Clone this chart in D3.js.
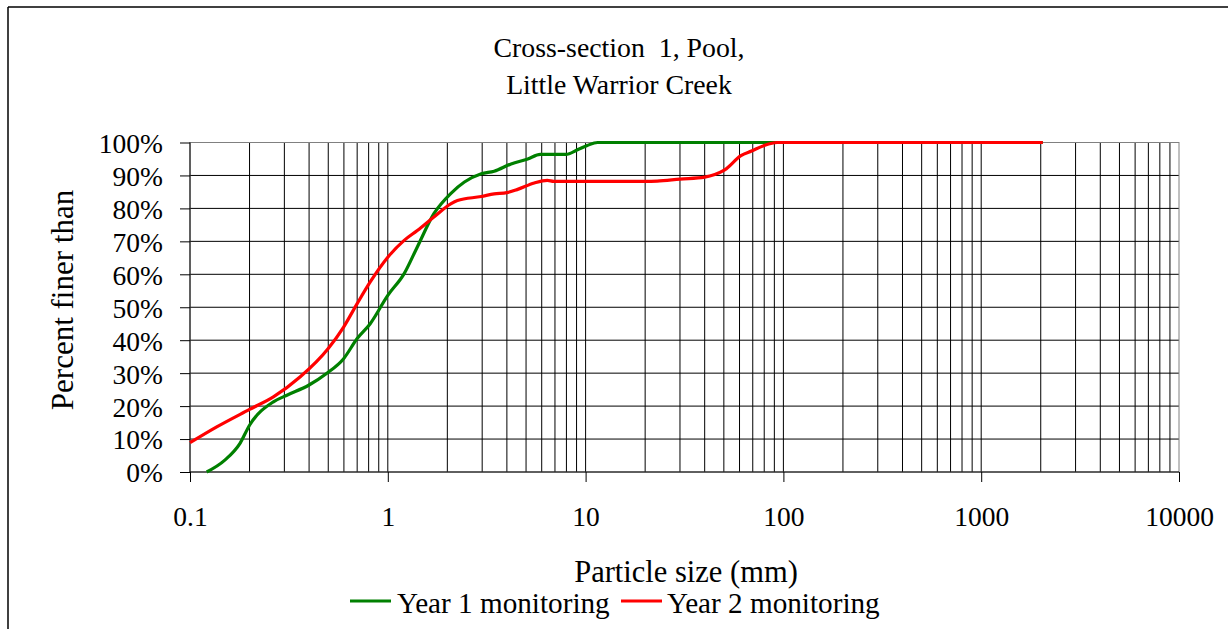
<!DOCTYPE html>
<html><head><meta charset="utf-8">
<script src="https://cdn.jsdelivr.net/npm/d3@7"></script>
<style>
html,body{margin:0;padding:0;background:#fff;}
text{font-family:"Liberation Serif","Times New Roman",serif;fill:#000;}
</style></head>
<body>
<svg id="chart" width="1228" height="629"></svg>
<script>
const titleLines = ["Cross-section  1, Pool,", "Little Warrior Creek"];
const xTitle = "Particle size (mm)";
const yTitle = "Percent finer than";
const xTickValues = [0.1, 1, 10, 100, 1000, 10000];
const xTickLabels = ["0.1", "1", "10", "100", "1000", "10000"];
const yTickValues = [0, 0.1, 0.2, 0.3, 0.4, 0.5, 0.6, 0.7, 0.8, 0.9, 1.0];
const seriesNames = ["Year 1 monitoring", "Year 2 monitoring"];
const seriesColors = ["#008000", "#ff0000"];

// Year 1: particle size (mm) and percent finer
const year1Size = [0.1215, 0.15, 0.179, 0.2, 0.264, 0.309, 0.4, 0.49, 0.598, 0.7, 0.815, 1.0, 1.21, 1.41, 1.71, 2.08, 2.44, 2.97, 3.45, 4.2, 5.1, 5.9, 7.95, 9.1, 10.2, 11.5, 16, 100, 2048];
const year1Pct  = [0.0, 0.036, 0.087, 0.142, 0.213, 0.233, 0.264, 0.299, 0.344, 0.405, 0.45, 0.536, 0.602, 0.683, 0.784, 0.845, 0.88, 0.905, 0.913, 0.935, 0.95, 0.964, 0.964, 0.978, 0.991, 1.0, 1.0, 1.0, 1.0];
// Year 2
const year2Size = [0.1, 0.1365, 0.2, 0.264, 0.361, 0.5, 0.598, 0.7, 0.815, 1.0, 1.21, 1.41, 1.71, 2.08, 2.25, 2.97, 3.45, 4.0, 4.5, 5.5, 6.4, 6.9, 20.3, 23, 30, 40, 45, 50.5, 61, 69, 80, 93, 100, 2048];
const year2Pct  = [0.089, 0.137, 0.19, 0.228, 0.289, 0.375, 0.44, 0.511, 0.577, 0.652, 0.703, 0.733, 0.774, 0.814, 0.824, 0.836, 0.844, 0.848, 0.857, 0.877, 0.885, 0.882, 0.882, 0.883, 0.889, 0.895, 0.903, 0.917, 0.96, 0.974, 0.991, 1.0, 1.0, 1.0];

const svg = d3.select("#chart");
const W = 1228, H = 629;
const plot = {left: 190, right: 1179, top: 142.5, bottom: 472};

const x = d3.scaleLog().domain([0.1, 10000]).range([plot.left, plot.right]);
const y = d3.scaleLinear().domain([0, 1]).range([plot.bottom, plot.top]);

// outer chart frame (left and top edges visible)
svg.append("line").attr("x1", 8).attr("x2", 8).attr("y1", 7).attr("y2", H).attr("stroke", "#000").attr("stroke-width", 1.5);
svg.append("line").attr("x1", 8).attr("x2", W).attr("y1", 7).attr("y2", 7).attr("stroke", "#000").attr("stroke-width", 1.5);

// title
svg.append("text").attr("x", 619).attr("y", 57).attr("text-anchor", "middle")
  .style("font-size", "27.8px").style("white-space", "pre").text(titleLines[0]);
svg.append("text").attr("x", 619).attr("y", 94).attr("text-anchor", "middle")
  .style("font-size", "27.8px").text(titleLines[1]);

// vertical gridlines (major & minor)
const gridX = [];
for (let e = -1; e < 4; e++) for (let m = 1; m < 10; m++) gridX.push(m * Math.pow(10, e));
svg.append("g").selectAll("line").data(gridX.filter(v => v > 0.1 && v < 10000)).join("line")
  .attr("x1", d => x(d)).attr("x2", d => x(d))
  .attr("y1", plot.top).attr("y2", plot.bottom)
  .attr("stroke", "#000").attr("stroke-width", 1);

// horizontal gridlines
svg.append("g").selectAll("line").data(yTickValues.filter(v => v > 0 && v < 1)).join("line")
  .attr("x1", plot.left).attr("x2", plot.right)
  .attr("y1", d => y(d)).attr("y2", d => y(d))
  .attr("stroke", "#000").attr("stroke-width", 1);

// plot border (grey)
svg.append("rect").attr("x", plot.left).attr("y", plot.top)
  .attr("width", plot.right - plot.left).attr("height", plot.bottom - plot.top)
  .attr("fill", "none").attr("stroke", "#808080").attr("stroke-width", 1);

// y axis
const yAxis = d3.axisLeft(y).tickValues(yTickValues).tickFormat(d3.format(".0%")).tickSize(10).tickPadding(17);
const gy = svg.append("g").attr("transform", `translate(${plot.left},0)`).call(yAxis);
gy.attr("font-family", null);
gy.select(".domain").attr("stroke", "#000").attr("d", `M0,${plot.top}V${plot.bottom}`);
gy.selectAll(".tick line").attr("stroke", "#000");
gy.selectAll(".tick text").style("font-size", "27.5px").attr("dy", "0.36em")
  .style("font-family", "'Liberation Serif','Times New Roman',serif");

// x axis
const xAxis = d3.axisBottom(x).tickValues(xTickValues).tickFormat((d, i) => xTickLabels[i]).tickSize(10).tickPadding(24);
const gx = svg.append("g").attr("transform", `translate(0,${plot.bottom})`).call(xAxis);
gx.attr("font-family", null);
gx.select(".domain").attr("stroke", "#000").attr("d", `M${plot.left},0H${plot.right}`);
gx.selectAll(".tick line").attr("stroke", "#000");
gx.selectAll(".tick text").style("font-size", "27.5px")
  .style("font-family", "'Liberation Serif','Times New Roman',serif");

// axis titles
svg.append("text").attr("x", 686).attr("y", 582).attr("text-anchor", "middle")
  .style("font-size", "30.5px").text(xTitle);
svg.append("text").attr("transform", "translate(73,300) rotate(-90)").attr("text-anchor", "middle")
  .style("font-size", "31px").text(yTitle);

// series lines
const line = d3.line().x(d => x(d[0])).y(d => y(d[1])).curve(d3.curveMonotoneX);
const s1 = year1Size.map((v, i) => [v, year1Pct[i]]);
const s2 = year2Size.map((v, i) => [v, year2Pct[i]]);
svg.append("path").datum(s1).attr("d", line).attr("fill", "none")
  .attr("stroke", seriesColors[0]).attr("stroke-width", 3.2).attr("stroke-linejoin", "round");
svg.append("path").datum(s2).attr("d", line).attr("fill", "none")
  .attr("stroke", seriesColors[1]).attr("stroke-width", 3.2).attr("stroke-linejoin", "round");

// legend
const legendItems = [{x: 350, tx: 397}, {x: 621, tx: 667}];
legendItems.forEach((p, i) => {
  svg.append("line").attr("x1", p.x).attr("x2", p.x + 41).attr("y1", 601).attr("y2", 601)
    .attr("stroke", seriesColors[i]).attr("stroke-width", 3.2);
  svg.append("text").attr("x", p.tx).attr("y", 613).style("font-size", "29.2px").text(seriesNames[i]);
});
</script>
</body></html>
